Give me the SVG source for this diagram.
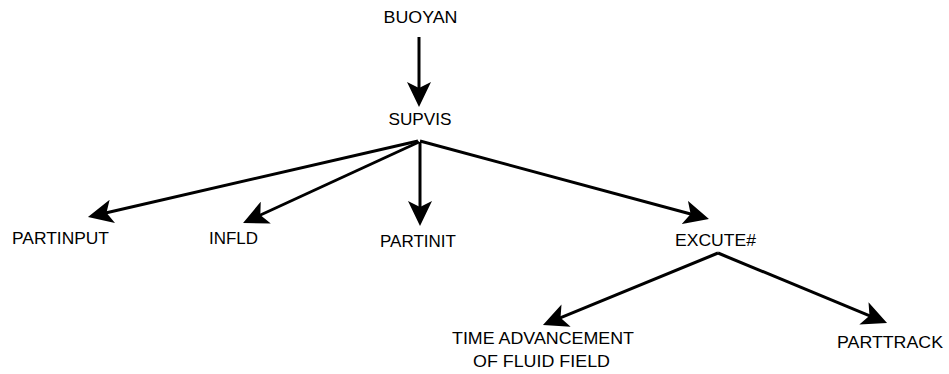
<svg xmlns="http://www.w3.org/2000/svg" width="949" height="374" viewBox="0 0 949 374">
<style>
  text { font-family: "Liberation Sans", Arial, sans-serif; font-size: 17px; fill: #000; text-anchor: middle; }
  .edge { stroke: #000; stroke-width: 3; fill: none; }
</style>
<defs>
  <marker id="arrow" markerUnits="userSpaceOnUse" markerWidth="25" markerHeight="24" refX="7" refY="12" orient="auto" viewBox="0 0 25 24">
    <path d="M25,12 L0,0 L6,12 L0,24 Z" fill="#000"/>
  </marker>
</defs>
<rect width="949" height="374" fill="#fff"/>
<g id="connectors">
  <line class="edge" x1="419" y1="37" x2="419" y2="89" marker-end="url(#arrow)"/>
  <line class="edge" x1="418" y1="141" x2="105.5" y2="213" marker-end="url(#arrow)"/>
  <line class="edge" x1="419" y1="142" x2="259.4" y2="215.5" marker-end="url(#arrow)"/>
  <line class="edge" x1="420" y1="142" x2="420" y2="208" marker-end="url(#arrow)"/>
  <line class="edge" x1="420" y1="141" x2="691.6" y2="214.3" marker-end="url(#arrow)"/>
  <line class="edge" x1="718" y1="253" x2="559.6" y2="318.2" marker-end="url(#arrow)"/>
  <line class="edge" x1="718" y1="253" x2="870.4" y2="316.1" marker-end="url(#arrow)"/>
</g>
<g id="BUOYAN"><text x="420.5" y="23" textLength="74" lengthAdjust="spacingAndGlyphs">BUOYAN</text></g>
<g id="SUPVIS"><text x="420" y="125" textLength="63" lengthAdjust="spacingAndGlyphs">SUPVIS</text></g>
<g id="PARTINPUT"><text x="60.5" y="244" textLength="97" lengthAdjust="spacingAndGlyphs">PARTINPUT</text></g>
<g id="INFLD"><text x="233.5" y="244" textLength="49" lengthAdjust="spacingAndGlyphs">INFLD</text></g>
<g id="PARTINIT"><text x="418" y="247" textLength="76" lengthAdjust="spacingAndGlyphs">PARTINIT</text></g>
<g id="EXCUTE"><text x="715.5" y="246" textLength="81" lengthAdjust="spacingAndGlyphs">EXCUTE#</text></g>
<g id="TIMEADV">
  <text x="543" y="344" textLength="182" lengthAdjust="spacingAndGlyphs">TIME ADVANCEMENT</text>
  <text x="541.5" y="367" textLength="137" lengthAdjust="spacingAndGlyphs">OF FLUID FIELD</text>
</g>
<g id="PARTTRACK"><text x="890" y="348" textLength="106" lengthAdjust="spacingAndGlyphs">PARTTRACK</text></g>
</svg>
